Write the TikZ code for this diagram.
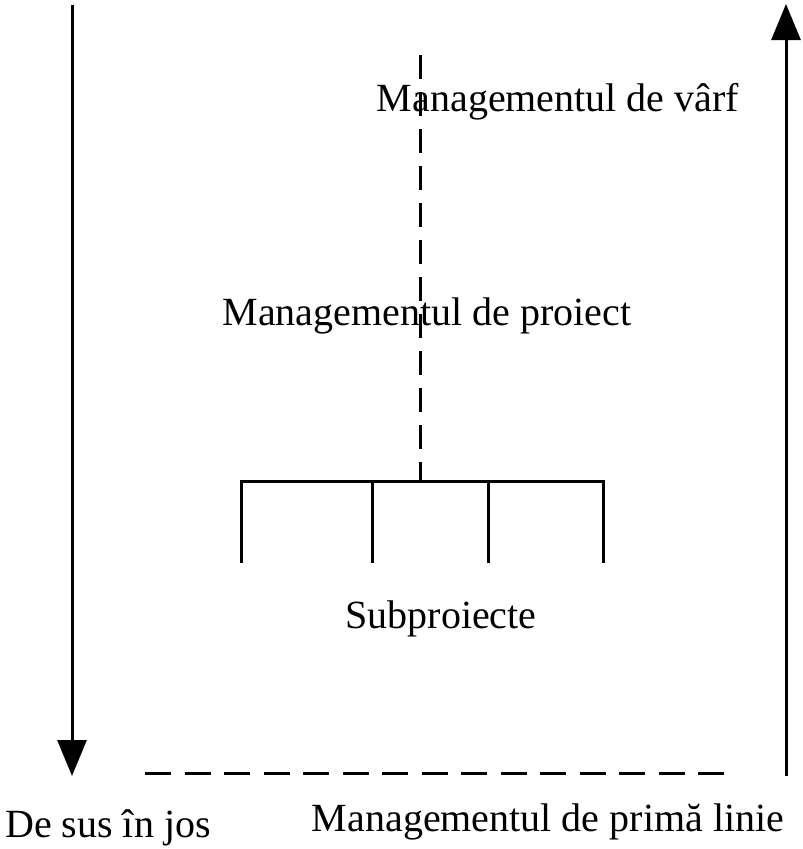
\documentclass[tikz,border=0pt]{standalone}
\usepackage{fontspec}
\setmainfont{Liberation Serif}
\usetikzlibrary{arrows.meta}
\begin{document}
\begin{tikzpicture}[x=1pt,y=-1pt,
  line/.style={line width=3pt},
  dashline/.style={line width=3pt,dash pattern=on 24pt off 13pt},
  bigarrow/.style={line width=3pt,-{Triangle[length=36pt,width=29pt]}},
  lbl/.style={font=\fontsize{40}{44}\selectfont,inner sep=0pt,anchor=base}]
\useasboundingbox (0,0) rectangle (803,849);

% side arrows
\coordinate (lt) at (72,5);
\coordinate (lb) at (72,776);
\coordinate (rb) at (786,776);
\coordinate (rt) at (786,4);
\draw[bigarrow] (lt) -- (lb);
\draw[bigarrow] (rb) -- (rt);

% labels
\node[lbl] (top) at (558,111) {Managementul de vârf};
\node[lbl] (proj) at (427,325) {Managementul de proiect};
\node[lbl] (sub) at (441,628) {Subproiecte};
\node[lbl] (dir) at (108,837) {De sus în jos};
\node[lbl] (first) at (548,831) {Managementul de primă linie};

% hierarchy: dashed spine and the subproject comb
\coordinate (spine) at (420,55);
\coordinate (hub) at (420,481);
\coordinate (b1) at (241,481);
\coordinate (b2) at (372,481);
\coordinate (b3) at (488,481);
\coordinate (b4) at (603,481);
\coordinate (e1) at (241,563);
\coordinate (e2) at (372,563);
\coordinate (e3) at (488,563);
\coordinate (e4) at (603,563);
\draw[dashline] (spine) -- (hub);
\draw[line] (e1) -- (b1) -- (b4) -- (e4);
\draw[line] (b2) -- (e2);
\draw[line] (b3) -- (e3);

% first-line dashed level
\coordinate (fl) at (145,773);
\coordinate (fr) at (730,773);
\draw[dashline,dash pattern=on 26pt off 13.5pt] (fl) -- (fr);
\end{tikzpicture}
\end{document}
